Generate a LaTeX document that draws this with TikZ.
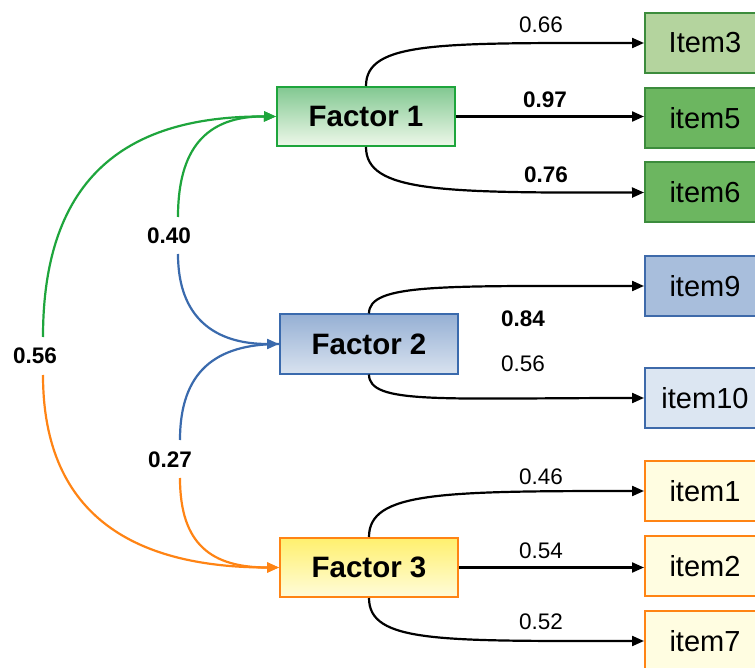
\documentclass[tikz,border=0pt]{standalone}
\usepackage{fontspec}
\setmainfont{Liberation Sans}
\usetikzlibrary{arrows.meta}
\definecolor{gline}{RGB}{30,165,60}
\definecolor{bline}{RGB}{58,106,173}
\definecolor{oline}{RGB}{255,132,20}
\definecolor{f1top}{RGB}{130,200,145}
\definecolor{f1bot}{RGB}{238,248,234}
\definecolor{f2top}{RGB}{150,176,212}
\definecolor{f2bot}{RGB}{216,226,239}
\definecolor{f3top}{RGB}{255,240,110}
\definecolor{f3bot}{RGB}{255,252,218}
\definecolor{iLg}{RGB}{180,212,158}
\definecolor{iDg}{RGB}{108,182,96}
\definecolor{iLb}{RGB}{168,190,220}
\definecolor{iVb}{RGB}{220,230,242}
\definecolor{iY}{RGB}{255,253,225}
\definecolor{bdG}{RGB}{60,140,60}
\definecolor{bdB}{RGB}{62,106,170}
\begin{document}
\begin{tikzpicture}[x=1pt,y=-1pt,
  factorbox/.style={draw,line width=2pt,minimum width=178pt,minimum height=59pt,inner sep=0pt,
     font=\fontsize{29.5}{31}\selectfont\bfseries},
  itembox/.style={draw,line width=2pt,minimum width=120pt,minimum height=60pt,inner sep=0pt,
     font=\fontsize{29}{31}\selectfont},
  lbl/.style={font=\fontsize{22.5}{25}\selectfont,inner sep=0pt},
  blbl/.style={font=\fontsize{22.5}{25}\selectfont\bfseries,inner sep=0pt},
  load/.style={line width=2.2pt,-{Triangle[length=12pt,width=10pt]}},
  corr/.style={line width=2.2pt},
  corrarr/.style={line width=2.2pt,-{Triangle[length=12pt,width=10pt]}}
]
\useasboundingbox (0,0) rectangle (755,668);
\clip (0,0) rectangle (755,668);
\fill[white] (0,0) rectangle (755,668);

% factors
\node[factorbox,draw=gline,top color=f1top,bottom color=f1bot] (F1) at (366,116.5) {Factor 1};
\node[factorbox,draw=bline,top color=f2top,bottom color=f2bot] (F2) at (369,344) {Factor 2};
\node[factorbox,draw=oline,top color=f3top,bottom color=f3bot] (F3) at (369,567.5) {Factor 3};

% items
\node[itembox,draw=bdG,fill=iLg] (I3) at (705,43) {Item3};
\node[itembox,draw=bdG,fill=iDg] (I5) at (705,118) {item5};
\node[itembox,draw=bdG,fill=iDg] (I6) at (705,192.5) {item6};
\node[itembox,draw=bdB,fill=iLb] (I9) at (705,286) {item9};
\node[itembox,draw=bdB,fill=iVb] (I10) at (705,398) {item10};
\node[itembox,draw=oline,fill=iY] (I1) at (705,491) {item1};
\node[itembox,draw=oline,fill=iY] (I2) at (705,566) {item2};
\node[itembox,draw=oline,fill=iY] (I7) at (705,641) {item7};

% loadings
\draw[load] (F1.north) .. controls +(0,-45) and (440,43) .. (I3.west);
\draw[load] (F1.east) -- (I5.west |- F1.east);
\draw[load] (F1.south) .. controls +(0,45) and (440,193) .. (I6.west);
\draw[load] (F2.north) .. controls +(0,-30) and (440,286) .. (I9.west);
\draw[load] (F2.south) .. controls +(0,30) and (440,398) .. (I10.west);
\draw[load] (F3.north) .. controls +(0,-45) and (440,491) .. (I1.west);
\draw[load] (F3.east) -- (I2.west |- F3.east);
\draw[load] (F3.south) .. controls +(0,45) and (440,641) .. (I7.west);

\node[lbl] (l66) at (541,25) {0.66};
\node[blbl] (l97) at (545,100) {0.97};
\node[blbl] (l76) at (546,175) {0.76};
\node[blbl] (l84) at (523,319) {0.84};
\node[lbl] (l56b) at (523,364) {0.56};
\node[lbl] (l46) at (541,477) {0.46};
\node[lbl] (l54) at (541,551) {0.54};
\node[lbl] (l52) at (541,622) {0.52};

% correlations
\node[blbl] (L40) at (169,236) {0.40};
\node[blbl] (L27) at (170,460) {0.27};
\node[blbl] (L56) at (35,356) {0.56};
\coordinate (a40) at (178,217);
\coordinate (b40) at (178,254);
\coordinate (a27) at (180,440);
\coordinate (b27) at (180,478);
\coordinate (a56) at (43,337);
\coordinate (b56) at (43,375);

\draw[corrarr,gline] (a40) .. controls (178,150) and (205,116) .. (F1.west);
\draw[corrarr,bline] (b40) .. controls (178,318) and (215,344) .. (F2.west);
\draw[corr,bline] (F2.west) .. controls (215,344) and (180,372) .. (a27);
\draw[corrarr,oline] (b27) .. controls (180,545) and (212,567.5) .. (F3.west);
\draw[corrarr,gline] (a56) .. controls (43,165) and (140,116) .. (F1.west);
\draw[corrarr,oline] (b56) .. controls (43,520) and (140,567.5) .. (F3.west);
\end{tikzpicture}
\end{document}
